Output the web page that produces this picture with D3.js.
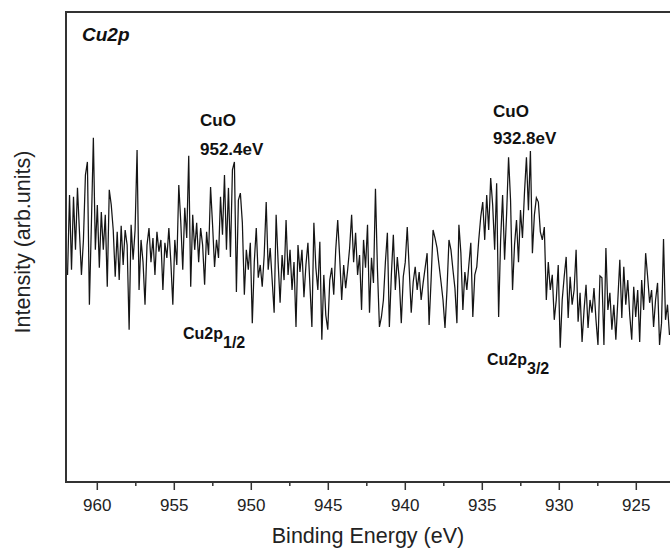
<!DOCTYPE html>
<html>
<head>
<meta charset="utf-8">
<script src="https://cdn.jsdelivr.net/npm/d3@7"></script>
<style>
  body { margin: 0; background: #fff; }
  text { font-family: "Liberation Sans", Arial, sans-serif; }
</style>
</head>
<body>
<div id="chart"></div>
<script>
	// Cu2p scan: first binding energy and the spacing between samples (eV)
	var eStart = 961.9;
	var eStep = 0.129;

	// counts (arb. units), high to low binding energy
	var intensity = [
		444,613,455,609,497,628,535,444,518,655,683,381,550,734,497,592,459,577,497,571,
		419,624,592,539,440,535,433,548,465,539,507,328,550,476,539,708,412,518,471,381,
		507,543,471,522,444,535,493,518,412,512,480,543,471,381,518,465,634,556,455,586,
		522,696,419,571,497,554,471,543,507,423,535,486,630,550,461,518,480,609,529,655,
		497,628,482,666,683,408,602,617,554,402,497,455,512,342,471,543,438,465,419,486,
		598,455,501,433,364,571,471,385,486,433,560,444,497,412,471,334,507,450,497,397,
		465,512,423,334,554,459,412,514,307,444,359,328,433,459,402,497,560,480,391,465,
		416,455,501,571,471,533,444,486,370,518,459,550,364,480,427,626,455,334,355,391,
		471,533,334,444,529,412,482,433,342,440,471,545,455,364,429,461,412,450,391,427,
		459,490,338,433,539,522,501,465,429,391,332,412,518,497,455,416,342,550,490,370,
		450,412,465,512,355,444,461,518,567,598,518,613,539,649,592,497,638,355,518,613,
		476,571,693,602,412,507,560,471,581,522,617,693,581,706,490,571,607,598,535,518,
		545,391,471,412,444,349,391,465,290,391,440,482,353,440,381,412,497,345,406,302,
		370,423,332,391,364,416,349,296,442,438,296,501,370,406,328,381,307,391,476,353,
		461,381,433,359,307,419,355,412,302,433,370,490,440,385,412,334,391,427,296,342,
		520,349,381,317
	];

	var tickValues = [960, 955, 950, 945, 940, 935, 930, 925];
	var minorTickValues = [957.5, 952.5, 947.5, 942.5, 937.5, 932.5, 927.5];

	var peakNames = ["CuO", "CuO"];
	var peakEnergies = ["952.4eV", "932.8eV"];
	var levelNames = ["Cu2p", "Cu2p"];
	var levelSubs = ["1/2", "3/2"];

	var wi = 670;
	var he = 550;
	var padLeft = 66, padTop = 12, padBottom = 482, padRight = 682;

	var spectrum = intensity.map(function(v, i) {
		return { e: eStart - i * eStep, v: v };
	});

	var x = d3.scaleLinear().domain([962, 922]).range([padLeft, padRight]);
	var y = d3.scaleLinear().domain([6, 1000]).range([padBottom, padTop]);

	var svg = d3.select("#chart")
				.append("svg")
				.attr("width", wi)
				.attr("height", he);

	svg.append("clipPath")
		.attr("id", "plotClip")
		.append("rect")
		.attr("x", padLeft)
		.attr("y", padTop)
		.attr("width", padRight - padLeft)
		.attr("height", padBottom - padTop);

	/* the spectrum */
	var line = d3.line()
		.x(function(d) { return x(d.e); })
		.y(function(d) { return y(d.v); });

	svg.append("path")
		.datum(spectrum)
		.attr("clip-path", "url(#plotClip)")
		.attr("d", line)
		.attr("fill", "none")
		.attr("stroke", "#151515")
		.attr("stroke-width", 1.25)
		.attr("stroke-linejoin", "miter");

	// bottom axis, major then minor ticks
	var xAxis = svg.append("g")
		.attr("transform", "translate(0," + padBottom + ")")
		.call(d3.axisBottom(x).tickValues(tickValues).tickSize(8).tickPadding(9).tickFormat(d3.format("d")));
	xAxis.select(".domain").remove();
	xAxis.selectAll("line").attr("stroke", "#333").attr("stroke-width", 1.5);
	xAxis.selectAll("text").attr("font-size", "17px").attr("fill", "#222")
		.attr("font-family", "'Liberation Sans', Arial, sans-serif");

	var xMinor = svg.append("g")
		.attr("transform", "translate(0," + padBottom + ")")
		.call(d3.axisBottom(x).tickValues(minorTickValues).tickSize(4).tickFormat(""));
	xMinor.select(".domain").remove();
	xMinor.selectAll("line").attr("stroke", "#333").attr("stroke-width", 1.5);

	// frame
	svg.append("rect")
		.attr("x", padLeft)
		.attr("y", padTop)
		.attr("width", padRight - padLeft)
		.attr("height", padBottom - padTop)
		.attr("fill", "none")
		.attr("stroke", "#333")
		.attr("stroke-width", 2);

	// axis titles
	svg.append("text")
		.attr("x", (padLeft + 670) / 2)
		.attr("y", 543)
		.attr("text-anchor", "middle")
		.attr("font-size", "21.5px")
		.attr("fill", "#222")
		.text("Binding Energy (eV)");

	svg.append("text")
		.attr("transform", "translate(30,242) rotate(-90)")
		.attr("text-anchor", "middle")
		.attr("font-size", "21.5px")
		.attr("fill", "#222")
		.text("Intensity (arb.units)");

	// panel name
	svg.append("text")
		.attr("x", 82)
		.attr("y", 41)
		.attr("font-size", "19px")
		.attr("font-weight", "bold")
		.attr("font-style", "italic")
		.attr("fill", "#111")
		.text("Cu2p");

	// peak annotations
	var peakPos = [[200, 126, 155], [493, 117, 144]];
	peakNames.forEach(function(name, i) {
		svg.append("text")
			.attr("x", peakPos[i][0]).attr("y", peakPos[i][1])
			.attr("font-size", "17px").attr("font-weight", "bold").attr("fill", "#111")
			.text(name);
		svg.append("text")
			.attr("x", peakPos[i][0]).attr("y", peakPos[i][2])
			.attr("font-size", "17px").attr("font-weight", "bold").attr("fill", "#111")
			.text(peakEnergies[i]);
	});

	var levelPos = [[183, 339], [487, 365]];
	levelNames.forEach(function(name, i) {
		var t = svg.append("text")
			.attr("x", levelPos[i][0]).attr("y", levelPos[i][1])
			.attr("font-size", "16px").attr("font-weight", "bold").attr("fill", "#111");
		t.append("tspan").text(name);
		t.append("tspan").attr("dy", 9).attr("font-size", "16px").text(levelSubs[i]);
	});
</script>
</body>
</html>
